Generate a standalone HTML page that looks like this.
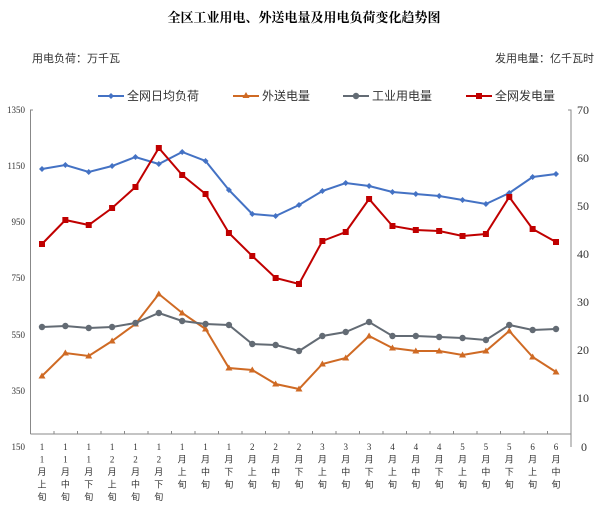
<!DOCTYPE html><html><head><meta charset="utf-8"><style>body{margin:0;background:#fff}</style></head><body>
<svg width="609" height="508" xmlns="http://www.w3.org/2000/svg" font-family="Liberation Serif, Noto Serif CJK SC, serif">
<rect width="609" height="508" fill="#fff"/>
<text x="304" y="22" text-anchor="middle" font-size="13" font-weight="bold" font-family="Noto Serif CJK SC, serif">全区工业用电、外送电量及用电负荷变化趋势图</text>
<text x="32" y="62" font-size="11" font-family="Noto Sans CJK SC, sans-serif" fill="#333">用电负荷：万千瓦</text>
<text x="594" y="62" text-anchor="end" font-size="11" font-family="Noto Sans CJK SC, sans-serif" fill="#333">发用电量：亿千瓦时</text>
<g font-size="12" font-family="Noto Sans CJK SC, sans-serif" fill="#333">
<line x1="98" y1="96" x2="124" y2="96" stroke="#4472C4" stroke-width="2"/><path d="M111 93l3 3-3 3-3-3z" fill="#4472C4"/><text x="127" y="100">全网日均负荷</text>
<line x1="233" y1="96" x2="259" y2="96" stroke="#CF6A24" stroke-width="2"/><path d="M246 92l3.5 6h-7z" fill="#CF6A24"/><text x="262" y="100">外送电量</text>
<line x1="343" y1="96" x2="369" y2="96" stroke="#636B74" stroke-width="2"/><circle cx="356" cy="96" r="3.2" fill="#636B74"/><text x="372" y="100">工业用电量</text>
<line x1="466" y1="96" x2="492" y2="96" stroke="#C00000" stroke-width="2"/><rect x="476" y="93" width="6" height="6" fill="#C00000"/><text x="495" y="100">全网发电量</text>
</g>
<g stroke="#888" stroke-width="1" fill="none">
<path d="M33 110H30.5V434M568 110H571V447"/>
<line x1="30.5" y1="434" x2="571" y2="434"/>
</g>
<g font-size="9" fill="#333">
<text x="25" y="113" text-anchor="end">1350</text>
<text x="25" y="169" text-anchor="end">1150</text>
<text x="25" y="225" text-anchor="end">950</text>
<text x="25" y="281" text-anchor="end">750</text>
<text x="25" y="338" text-anchor="end">550</text>
<text x="25" y="394" text-anchor="end">350</text>
<text x="25" y="450" text-anchor="end">150</text>
</g>
<g font-size="12" fill="#333">
<text x="577" y="114">70</text><text x="577" y="162">60</text><text x="577" y="210">50</text><text x="577" y="258">40</text><text x="577" y="306">30</text><text x="577" y="354">20</text><text x="577" y="402">10</text><text x="581" y="451">0</text>
</g>
<g id="ticks" stroke="#888"></g>
<g id="labels" font-size="9" fill="#333" text-anchor="middle" font-family="Liberation Serif, Noto Sans CJK SC, sans-serif"></g>
<g id="series"></g>
</svg>
<script>
const NS="http://www.w3.org/2000/svg";
const xs=[];for(let i=0;i<23;i++)xs.push(42+i*(514/22));
const lab=["11月上旬","11月中旬","11月下旬","12月上旬","12月中旬","12月下旬","1月上旬","1月中旬","1月下旬","2月上旬","2月中旬","2月下旬","3月上旬","3月中旬","3月下旬","4月上旬","4月中旬","4月下旬","5月上旬","5月中旬","5月下旬","6月上旬","6月中旬"];
const L=document.getElementById("labels"),T=document.getElementById("ticks");
for(let i=0;i<=23;i++){const x=30.5+i*(540.5/23);const l=document.createElementNS(NS,"line");l.setAttribute("x1",x);l.setAttribute("x2",x);l.setAttribute("y1",431);l.setAttribute("y2",434);T.appendChild(l);}
lab.forEach((s,i)=>{[...s].forEach((c,j)=>{const t=document.createElementNS(NS,"text");t.setAttribute("x",xs[i]);t.setAttribute("y",450+j*12.5);t.textContent=c;L.appendChild(t);});});
const S=document.getElementById("series");
const data=[
["#4472C4","d",[169,165,172,166,157,164,152,161,190,214,216,205,191,183,186,192,194,196,200,204,193,177,174]],
["#CF6A24","t",[376,353,356,341,324,294,313,329,368,370,384,389,364,358,336,348,351,351,355,351,331,357,372]],
["#636B74","c",[327,326,328,327,323,313,321,324,325,344,345,351,336,332,322,336,336,337,338,340,325,330,329]],
["#C00000","s",[244,220,225,208,187,148,175,194,233,256,278,284,241,232,199,226,230,231,236,234,197,229,242]]];
data.forEach(([c,m,ys])=>{const p=document.createElementNS(NS,"polyline");p.setAttribute("points",ys.map((y,i)=>xs[i]+","+y).join(" "));p.setAttribute("fill","none");p.setAttribute("stroke",c);p.setAttribute("stroke-width","2");S.appendChild(p);
ys.forEach((y,i)=>{const x=xs[i];let e;if(m=="d"){e=document.createElementNS(NS,"path");e.setAttribute("d",`M${x} ${y-3}l3 3-3 3-3-3z`);}else if(m=="t"){e=document.createElementNS(NS,"path");e.setAttribute("d",`M${x} ${y-3.5}l3.5 6h-7z`);}else if(m=="c"){e=document.createElementNS(NS,"circle");e.setAttribute("cx",x);e.setAttribute("cy",y);e.setAttribute("r",3.2);}else{e=document.createElementNS(NS,"rect");e.setAttribute("x",x-3);e.setAttribute("y",y-3);e.setAttribute("width",6);e.setAttribute("height",6);}e.setAttribute("fill",c);S.appendChild(e);});});
</script>
</body></html>
